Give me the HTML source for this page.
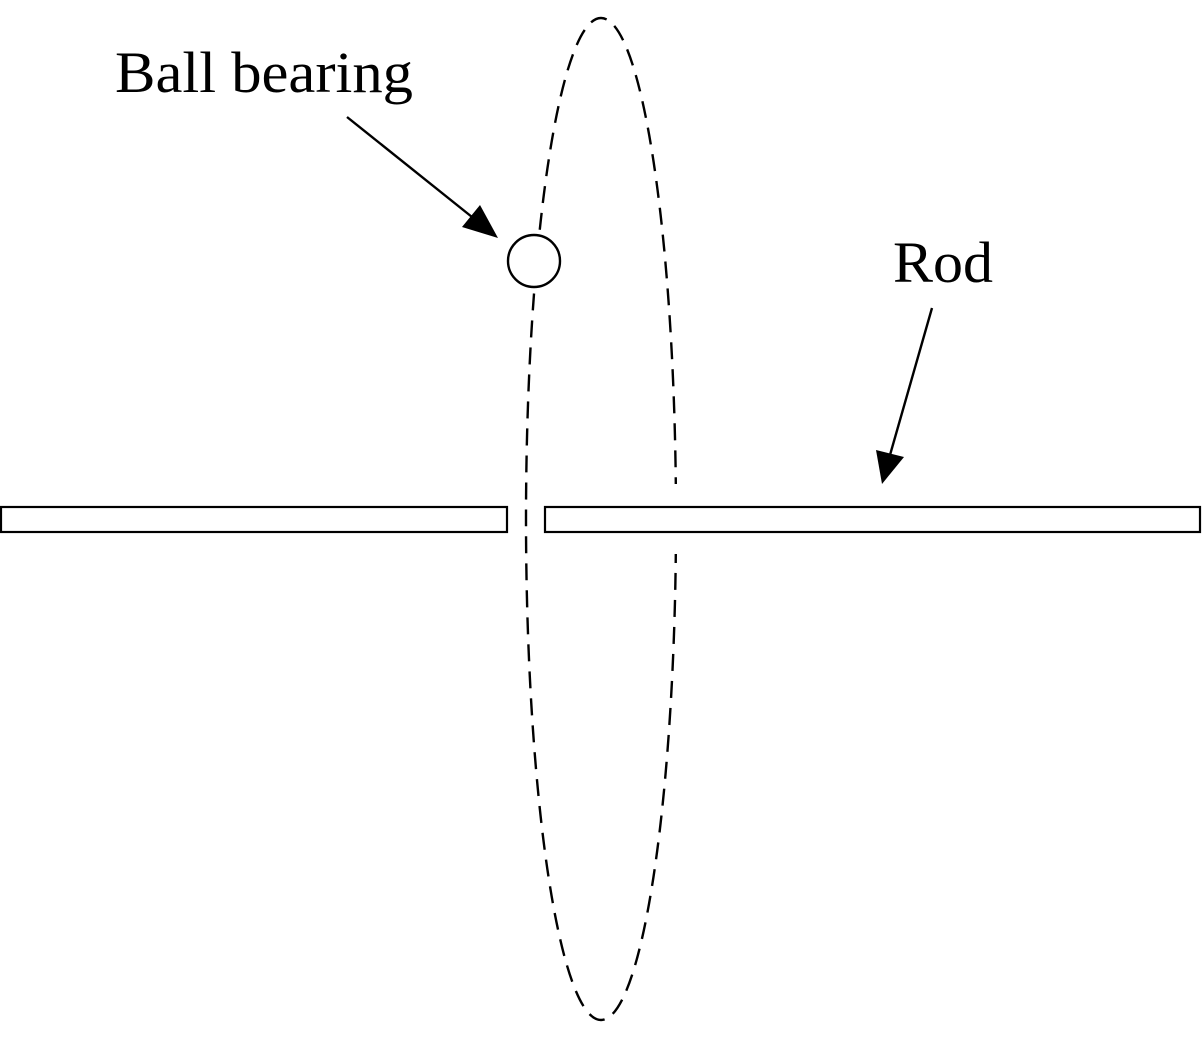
<!DOCTYPE html>
<html><head><style>html,body{margin:0;padding:0;background:#fff}</style></head>
<body>
<svg width="1203" height="1038" viewBox="0 0 1203 1038" xmlns="http://www.w3.org/2000/svg">
<ellipse cx="601" cy="519" rx="75" ry="501" fill="none" stroke="#000" stroke-width="2.4" stroke-dasharray="17,10"/>
<rect x="665" y="484" width="22" height="70" fill="#fff"/>
<rect x="1" y="507" width="506" height="25" fill="#fff" stroke="#000" stroke-width="2.2"/>
<rect x="545" y="507" width="655" height="25" fill="#fff" stroke="#000" stroke-width="2.2"/>
<circle cx="534" cy="261" r="26" fill="#fff" stroke="#000" stroke-width="2.4"/>
<line x1="347" y1="117" x2="482" y2="225" stroke="#000" stroke-width="2.4"/>
<path d="M498,238 L462,227 L480,205 z" fill="#000"/>
<line x1="932" y1="308" x2="888" y2="462" stroke="#000" stroke-width="2.4"/>
<path d="M882,484 L876,450 L904,457 z" fill="#000"/>
<text x="115" y="92" font-family="Liberation Serif, serif" font-size="58" textLength="298" lengthAdjust="spacingAndGlyphs">Ball bearing</text>
<text x="893" y="282" font-family="Liberation Serif, serif" font-size="58" textLength="100" lengthAdjust="spacingAndGlyphs">Rod</text>
</svg>
</body></html>
